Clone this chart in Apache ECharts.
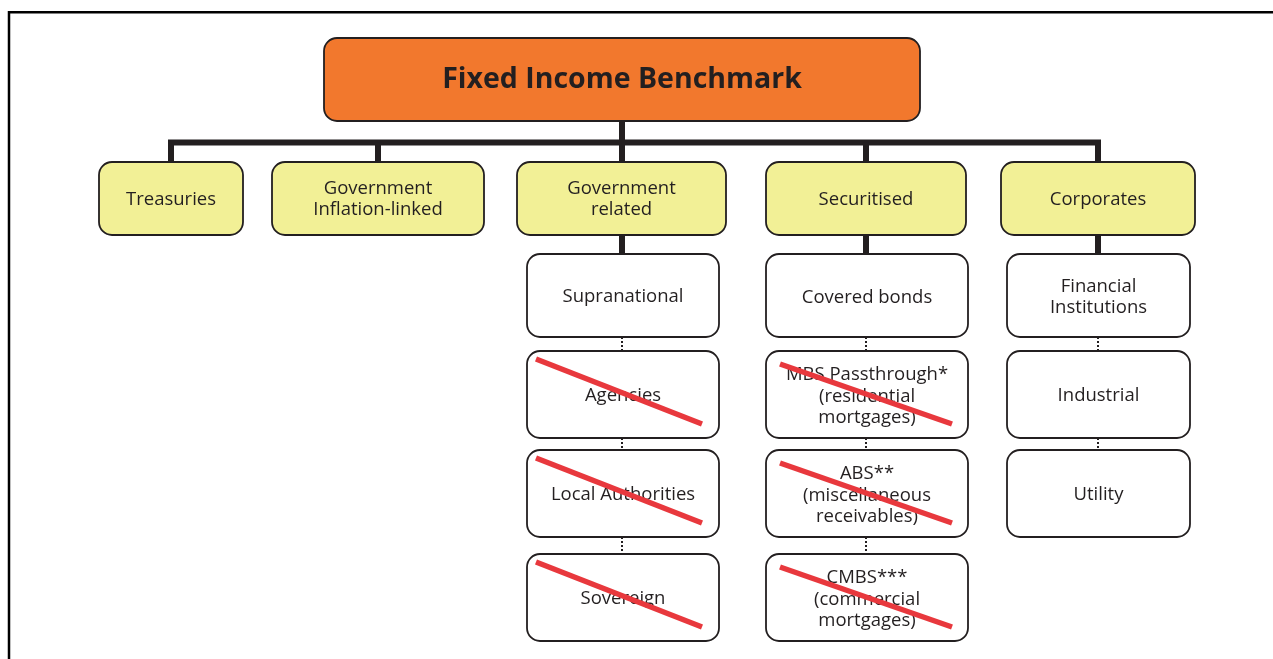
<!DOCTYPE html>
<html>
<head>
<meta charset="utf-8">
<script src="https://cdn.jsdelivr.net/npm/echarts@6/dist/echarts.min.js"></script>
<style>html,body{margin:0;padding:0;background:#fff}#c{width:1273px;height:659px}</style>
</head>
<body>
<div id="c"></div>
<script>
// ---------- data ----------
const rootLabel = 'Fixed Income Benchmark';
const sectors = ['Treasuries', 'Government\nInflation-linked', 'Government\nrelated', 'Securitised', 'Corporates'];
const govRelated = ['Supranational', 'Agencies', 'Local Authorities', 'Sovereign'];
const govRelatedExcluded = [false, true, true, true];
const securitised = ['Covered bonds', 'MBS Passthrough*\n(residential\nmortgages)', 'ABS**\n(miscellaneous\nreceivables)', 'CMBS***\n(commercial\nmortgages)'];
const securitisedExcluded = [false, true, true, true];
const corporates = ['Financial\nInstitutions', 'Industrial', 'Utility'];
const corporatesExcluded = [false, false, false];

// ---------- layout (diagram units on hidden axes) ----------
const rootSpan = [324, 38, 920, 121];
const sectorX = [[99, 243], [272, 484], [517, 726], [766, 966], [1001, 1195]];
const sectorY = [162, 235];
const subRowsY = [[254, 337], [351, 438], [450, 537], [554, 641]];
const govX = [527, 719], secX = [766, 968], corpX = [1007, 1190];
const dropX = [171, 378, 621.5, 866, 1098];
const busY = 142.5;

const INK = '#231F20';
const FONT = '"Open Sans", "Noto Sans", sans-serif';

function boxes(xs, names) {
  return names.map((n, i) => [xs[0], subRowsY[i][0], xs[1], subRowsY[i][1]]);
}

function boxSeries(data, names, fill, fontSize, weight, lh, dy) {
  return {
    type: 'custom', coordinateSystem: 'cartesian2d', silent: true,
    data: data,
    renderItem: function (params, api) {
      const p1 = api.coord([api.value(0), api.value(1)]);
      const p2 = api.coord([api.value(2), api.value(3)]);
      return {
        type: 'group', children: [
          { type: 'rect', shape: { x: p1[0], y: p1[1], width: p2[0] - p1[0], height: p2[1] - p1[1], r: 13 },
            style: { fill: fill, stroke: INK, lineWidth: 1.8 } },
          { type: 'text', style: { text: names[params.dataIndex], x: (p1[0] + p2[0]) / 2, y: (p1[1] + p2[1]) / 2 + dy,
            align: 'center', verticalAlign: 'middle', fill: INK, fontFamily: FONT, fontSize: fontSize, fontWeight: weight, lineHeight: lh } }
        ]
      };
    }
  };
}

const sectorData = sectorX.map(x => [x[0], sectorY[0], x[1], sectorY[1]]);
const govData = boxes(govX, govRelated);
const secData = boxes(secX, securitised);
const corpData = boxes(corpX, corporates);

// connectors
const bus = [{ coords: [[dropX[0], sectorY[0]], [dropX[0], busY], [dropX[4], busY], [dropX[4], sectorY[0]]] }];
const solidLinks = [
  { coords: [[621.5, rootSpan[3]], [621.5, sectorY[0]]] },
  { coords: [[dropX[1], busY], [dropX[1], sectorY[0]]] },
  { coords: [[dropX[3], busY], [dropX[3], sectorY[0]]] },
  { coords: [[621.5, sectorY[1]], [621.5, subRowsY[0][0]]] },
  { coords: [[866, sectorY[1]], [866, subRowsY[0][0]]] },
  { coords: [[1098, sectorY[1]], [1098, subRowsY[0][0]]] }
];
function dotted(x, n) {
  const out = [];
  for (let i = 0; i < n - 1; i++) out.push({ coords: [[x, subRowsY[i][1]], [x, subRowsY[i + 1][0]]] });
  return out;
}
const dottedLinks = dotted(622, govRelated.length).concat(dotted(866, securitised.length)).concat(dotted(1098, corporates.length));

function strikes(xs, flags, a, b) {
  const out = [];
  flags.forEach((f, i) => {
    if (f) out.push({ coords: [[xs[0] + a[0], subRowsY[i][0] + a[1]], [xs[1] - b[0], subRowsY[i][1] - b[1]]] });
  });
  return out;
}
const strikeLines = strikes(govX, govRelatedExcluded, [9, 8], [17, 14])
  .concat(strikes(secX, securitisedExcluded, [14, 13], [16, 14]));

const chart = echarts.init(document.getElementById('c'), null, { renderer: 'canvas' });
const hiddenAxis = { axisLine: { show: false }, axisTick: { show: false }, axisLabel: { show: false }, splitLine: { show: false } };
chart.setOption({
  animation: false,
  backgroundColor: '#fff',
  grid: { left: 0, right: 0, top: 0, bottom: 0 },
  xAxis: Object.assign({ type: 'value', min: 0, max: 1273 }, hiddenAxis),
  yAxis: Object.assign({ type: 'value', min: 0, max: 659, inverse: true }, hiddenAxis),
  graphic: [{
    type: 'polyline', silent: true,
    shape: { points: [[9, 659], [9, 12.3], [1273, 12.3]] },
    style: { stroke: '#000', lineWidth: 2.5, fill: null }
  }],
  series: [
    { type: 'lines', coordinateSystem: 'cartesian2d', polyline: true, silent: true, data: bus,
      lineStyle: { color: INK, width: 6, opacity: 1, join: 'miter', cap: 'butt' } },
    { type: 'lines', coordinateSystem: 'cartesian2d', silent: true, data: solidLinks,
      lineStyle: { color: INK, width: 6, opacity: 1, cap: 'butt' } },
    { type: 'lines', coordinateSystem: 'cartesian2d', silent: true, data: dottedLinks,
      lineStyle: { color: INK, width: 2, opacity: 1, type: [2, 2], cap: 'butt' } },
    boxSeries([rootSpan], [rootLabel], '#F2782D', 28.5, 'bold', 34, 0),
    boxSeries(sectorData, sectors, '#F2F096', 18.5, 'normal', 21, 1),
    boxSeries(govData, govRelated, '#FFFFFF', 18.5, 'normal', 21.5, 1.5),
    boxSeries(secData, securitised, '#FFFFFF', 18.5, 'normal', 21.5, 2),
    boxSeries(corpData, corporates, '#FFFFFF', 18.5, 'normal', 21.5, 1.5),
    { type: 'lines', coordinateSystem: 'cartesian2d', silent: true, data: strikeLines, z: 5,
      lineStyle: { color: '#E8383D', width: 5.5, opacity: 1, cap: 'butt' } }
  ]
});
</script>
</body>
</html>
